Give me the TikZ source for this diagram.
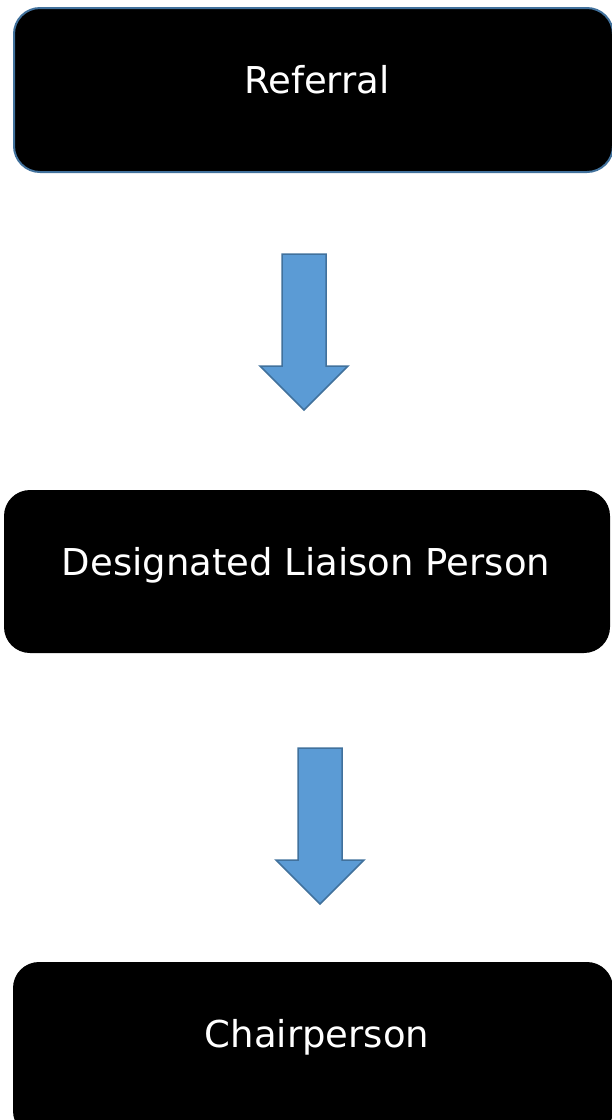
\documentclass[tikz,border=0pt]{standalone}
\usepackage{fontspec}
\setmainfont{DejaVu Sans}
\definecolor{bordblue}{HTML}{41719C}
\definecolor{fillblue}{HTML}{5B9BD5}
\begin{document}
\begin{tikzpicture}[x=1pt,y=-1pt,
  box/.style={rectangle, rounded corners=26pt, fill=black, inner sep=0pt},
  lbl/.style={text=white, inner sep=0pt, anchor=base, font=\fontsize{37}{44}\selectfont},
  blockarrow/.style={fill=fillblue, draw=bordblue, line width=1.5pt, line join=miter}]
\useasboundingbox (0,0) rectangle (611,1120);
% boxes
\node[box, draw=bordblue, line width=2pt, minimum width=599pt, minimum height=164pt] (referral) at (313.5,90) {};
\node[box, minimum width=606pt, minimum height=163pt] (liaison) at (307,571.5) {};
\node[box, minimum width=600pt, minimum height=175pt] (chair) at (313,1049.5) {};
% labels
\node[lbl] (treferral) at (317,93) {Referral};
\node[lbl] (tliaison) at (306,575) {Designated Liaison Person};
\node[lbl] (tchair) at (317,1047) {Chairperson};
% block arrows
\coordinate (a1) at (304,254);
\coordinate (a2) at (320,748);
\path[blockarrow] (a1) ++(-22,0) -- ++(44,0) -- ++(0,112) -- ++(22,0) -- ++(-44,44) -- ++(-44,-44) -- ++(22,0) -- cycle;
\path[blockarrow] (a2) ++(-22,0) -- ++(44,0) -- ++(0,112) -- ++(22,0) -- ++(-44,44) -- ++(-44,-44) -- ++(22,0) -- cycle;
\end{tikzpicture}
\end{document}
